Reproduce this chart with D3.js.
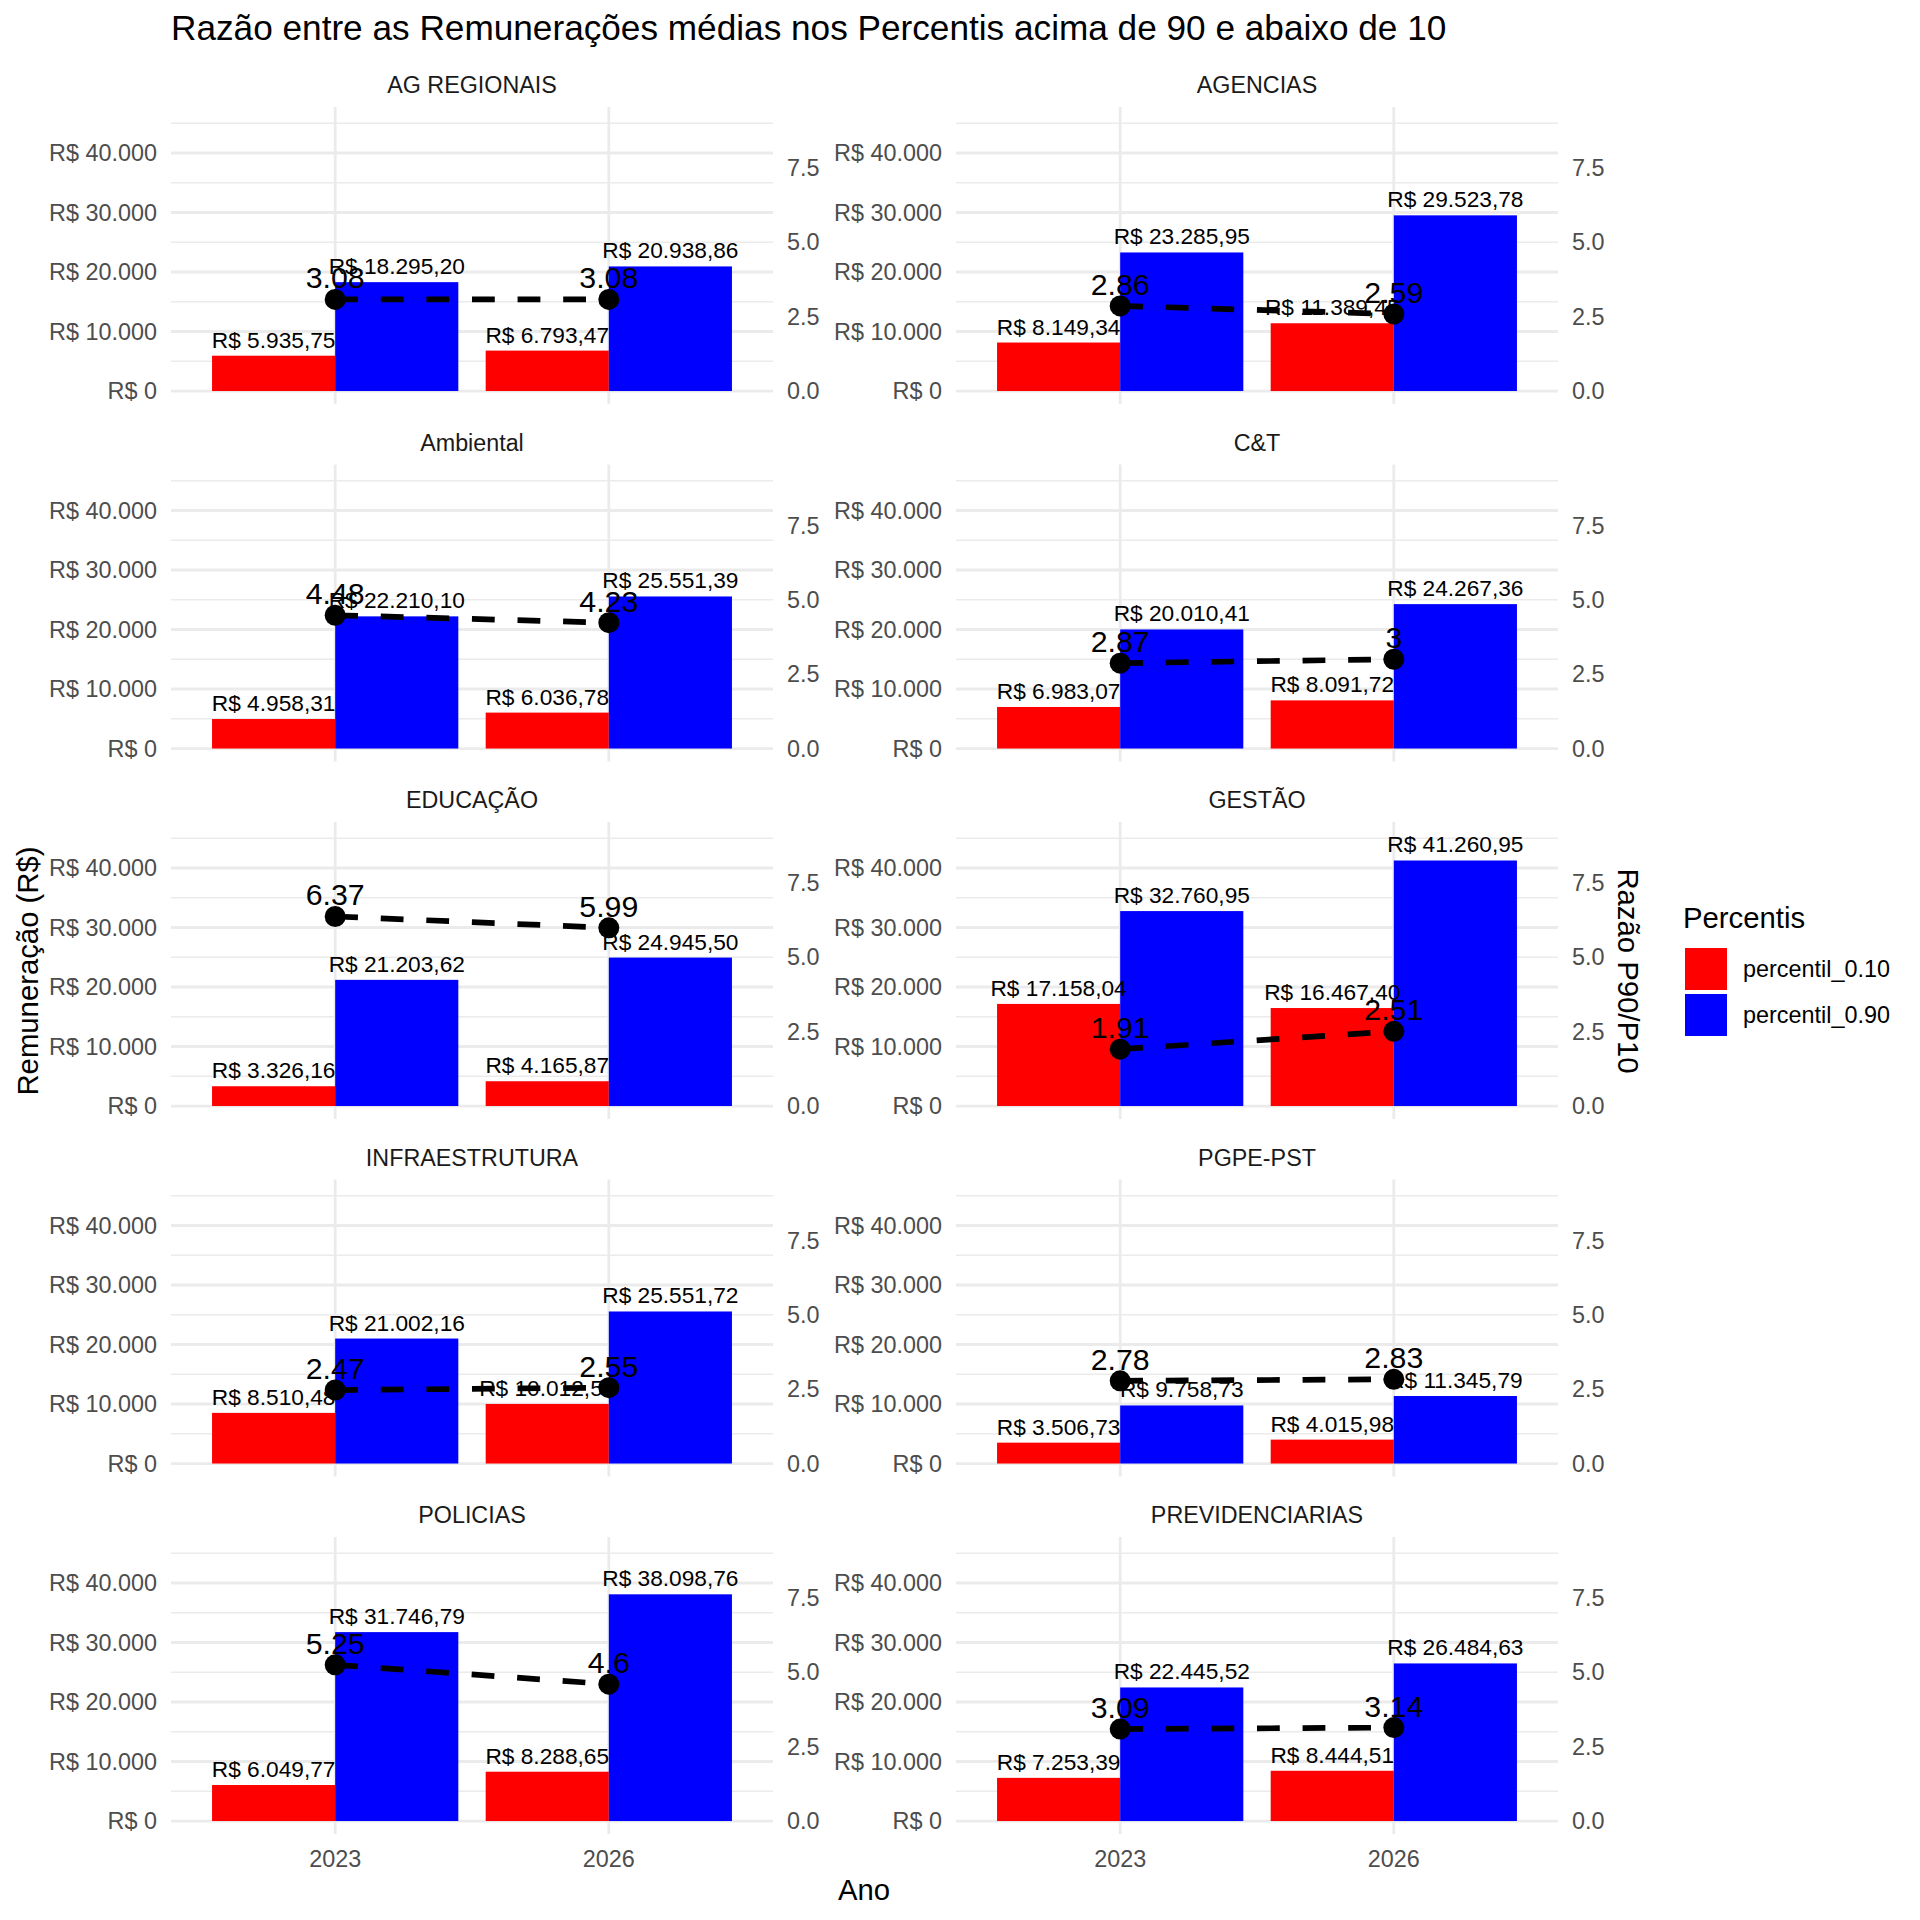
<!DOCTYPE html>
<html>
<head>
<meta charset="utf-8">
<script src="https://cdn.jsdelivr.net/npm/d3@7"></script>
<style>
  body { margin: 0; background: #fff; }
  svg { font-family: "Liberation Sans", Arial, Helvetica, sans-serif; }
</style>
</head>
<body>
<svg id="chart" width="1920" height="1920"></svg>
<script>
// dados
var categorias = ["AG REGIONAIS", "AGENCIAS", "Ambiental", "C&T", "EDUCAÇÃO",
                  "GESTÃO", "INFRAESTRUTURA", "PGPE-PST", "POLICIAS", "PREVIDENCIARIAS"];
var anos = ["2023", "2026"];
var percentis = ["percentil_0.10", "percentil_0.90"];
var cores = ["#FF0000", "#0000FF"];

var p10_2023 = [5935.75, 8149.34, 4958.31, 6983.07, 3326.16, 17158.04, 8510.48, 3506.73, 6049.77, 7253.39];
var p10_2026 = [6793.47, 11389.45, 6036.78, 8091.72, 4165.87, 16467.40, 10012.52, 4015.98, 8288.65, 8444.51];
var p90_2023 = [18295.20, 23285.95, 22210.10, 20010.41, 21203.62, 32760.95, 21002.16, 9758.73, 31746.79, 22445.52];
var p90_2026 = [20938.86, 29523.78, 25551.39, 24267.36, 24945.50, 41260.95, 25551.72, 11345.79, 38098.76, 26484.63];
var razao_2023 = [3.08, 2.86, 4.48, 2.87, 6.37, 1.91, 2.47, 2.78, 5.25, 3.09];
var razao_2026 = [3.08, 2.59, 4.23, 3, 5.99, 2.51, 2.55, 2.83, 4.6, 3.14];

var yTicks = [0, 10000, 20000, 30000, 40000];
var yMinor = [5000, 15000, 25000, 35000, 45000];
var razaoTicks = [0, 2.5, 5, 7.5];
var fator = 5000;

var svg = d3.select("#chart");

var locale = d3.formatLocale({decimal: ",", thousands: ".", grouping: [3], currency: ["R$ ", ""]});
var fmtReal = locale.format("$,.2f");
var fmtTick = locale.format("$,.0f");
var fmtRazao = d3.format(".1f");

// layout dos paineis
var panelW = 602, panelH = 297;
var colX = [171, 956];
var rowY = 107, rowStep = 357.5;

var x = d3.scalePoint().domain(anos).range([0, panelW]).padding(0.6);
var step = x.step();
var xSub = d3.scaleBand().domain(percentis).range([-0.45 * step, 0.45 * step]);
var y = d3.scaleLinear().domain([-2180, 47730]).range([panelH, 0]);
var y2 = d3.scaleLinear().domain([-2180 / fator, 47730 / fator]).range([panelH, 0]);

// titulo
svg.append("text")
    .attr("x", 171)
    .attr("y", 40)
    .attr("font-size", "35.2px")
    .attr("fill", "#000")
    .text("Razão entre as Remunerações médias nos Percentis acima de 90 e abaixo de 10");

categorias.forEach(function(cat, i) {
    var col = i % 2, row = Math.floor(i / 2);
    var g = svg.append("g")
        .attr("transform", "translate(" + colX[col] + "," + (rowY + row * rowStep) + ")");

    var dados = [
        {ano: "2023", p: percentis[0], v: p10_2023[i], cor: cores[0]},
        {ano: "2023", p: percentis[1], v: p90_2023[i], cor: cores[1]},
        {ano: "2026", p: percentis[0], v: p10_2026[i], cor: cores[0]},
        {ano: "2026", p: percentis[1], v: p90_2026[i], cor: cores[1]}
    ];
    var razoes = [
        {ano: "2023", r: razao_2023[i]},
        {ano: "2026", r: razao_2026[i]}
    ];

    // strip
    g.append("text")
        .attr("x", panelW / 2)
        .attr("y", -22)
        .attr("dy", "0.35em")
        .attr("text-anchor", "middle")
        .attr("font-size", "23.3px")
        .attr("fill", "#1A1A1A")
        .text(cat);

    // grade
    g.selectAll(".minor")
        .data(yMinor)
        .enter()
        .append("line")
        .attr("x1", 0).attr("x2", panelW)
        .attr("y1", function(d) { return y(d); })
        .attr("y2", function(d) { return y(d); })
        .attr("stroke", "#EBEBEB")
        .attr("stroke-width", 1.4);

    g.selectAll(".major")
        .data(yTicks)
        .enter()
        .append("line")
        .attr("x1", 0).attr("x2", panelW)
        .attr("y1", function(d) { return y(d); })
        .attr("y2", function(d) { return y(d); })
        .attr("stroke", "#EBEBEB")
        .attr("stroke-width", 2.8);

    g.selectAll(".vgrid")
        .data(anos)
        .enter()
        .append("line")
        .attr("x1", function(d) { return x(d); })
        .attr("x2", function(d) { return x(d); })
        .attr("y1", 0).attr("y2", panelH)
        .attr("stroke", "#EBEBEB")
        .attr("stroke-width", 2.8);

    // eixo esquerdo
    g.selectAll(".ytick")
        .data(yTicks)
        .enter()
        .append("text")
        .attr("x", -14)
        .attr("y", function(d) { return y(d); })
        .attr("dy", "0.35em")
        .attr("text-anchor", "end")
        .attr("font-size", "23.4px")
        .attr("fill", "#4D4D4D")
        .text(function(d) { return fmtTick(d); });

    // eixo direito (razao)
    g.selectAll(".y2tick")
        .data(razaoTicks)
        .enter()
        .append("text")
        .attr("x", panelW + 14)
        .attr("y", function(d) { return y2(d); })
        .attr("dy", "0.35em")
        .attr("text-anchor", "start")
        .attr("font-size", "23.4px")
        .attr("fill", "#4D4D4D")
        .text(function(d) { return fmtRazao(d); });

    // eixo x so na ultima linha
    if (row === 4) {
        g.selectAll(".xtick")
            .data(anos)
            .enter()
            .append("text")
            .attr("x", function(d) { return x(d); })
            .attr("y", panelH + 25)
            .attr("dy", "0.35em")
            .attr("text-anchor", "middle")
            .attr("font-size", "23.4px")
            .attr("fill", "#4D4D4D")
            .text(function(d) { return d; });
    }

    // barras
    g.selectAll("rect")
        .data(dados)
        .enter()
        .append("rect")
        .attr("x", function(d) { return x(d.ano) + xSub(d.p); })
        .attr("width", xSub.bandwidth())
        .attr("y", function(d) { return y(d.v); })
        .attr("height", function(d) { return y(0) - y(d.v); })
        .attr("fill", function(d) { return d.cor; });

    g.selectAll(".barLabel")
        .data(dados)
        .enter()
        .append("text")
        .attr("x", function(d) { return x(d.ano) + xSub(d.p) + xSub.bandwidth() / 2; })
        .attr("y", function(d) { return y(d.v) - 8; })
        .attr("text-anchor", "middle")
        .attr("font-size", "22.7px")
        .attr("fill", "#000")
        .text(function(d) { return fmtReal(d.v); });

    // linha da razao
    var linha = d3.line()
        .x(function(d) { return x(d.ano); })
        .y(function(d) { return y2(d.r); });

    g.append("path")
        .datum(razoes)
        .attr("d", linha)
        .attr("fill", "none")
        .attr("stroke", "#000")
        .attr("stroke-width", 5.7)
        .attr("stroke-dasharray", "22.8,22.8");

    g.selectAll(".ponto")
        .data(razoes)
        .enter()
        .append("circle")
        .attr("cx", function(d) { return x(d.ano); })
        .attr("cy", function(d) { return y2(d.r); })
        .attr("r", 10.5)
        .attr("fill", "#000");

    g.selectAll(".razaoLabel")
        .data(razoes)
        .enter()
        .append("text")
        .attr("x", function(d) { return x(d.ano); })
        .attr("y", function(d) { return y2(d.r) - 11; })
        .attr("text-anchor", "middle")
        .attr("font-size", "30.3px")
        .attr("fill", "#000")
        .text(function(d) { return String(d.r); });
});

// titulos dos eixos
svg.append("text")
    .attr("transform", "translate(28,971) rotate(-90)")
    .attr("dy", "0.35em")
    .attr("text-anchor", "middle")
    .attr("font-size", "29.3px")
    .text("Remuneração (R$)");

svg.append("text")
    .attr("transform", "translate(1628,971) rotate(90)")
    .attr("dy", "0.35em")
    .attr("text-anchor", "middle")
    .attr("font-size", "29.3px")
    .text("Razão P90/P10");

svg.append("text")
    .attr("x", 864)
    .attr("y", 1890)
    .attr("dy", "0.35em")
    .attr("text-anchor", "middle")
    .attr("font-size", "29.3px")
    .text("Ano");

// legenda
var legenda = svg.append("g");
legenda.append("text")
    .attr("x", 1683)
    .attr("y", 928)
    .attr("font-size", "29.3px")
    .text("Percentis");

var itens = legenda.selectAll(".item")
    .data(percentis)
    .enter()
    .append("g")
    .attr("transform", function(d, i) { return "translate(1685," + (948 + i * 46) + ")"; });

itens.append("rect")
    .attr("width", 42)
    .attr("height", 42)
    .attr("fill", function(d, i) { return cores[i]; });

itens.append("text")
    .attr("x", 58)
    .attr("y", 21)
    .attr("dy", "0.35em")
    .attr("font-size", "23.4px")
    .text(function(d) { return d; });
</script>
</body>
</html>
